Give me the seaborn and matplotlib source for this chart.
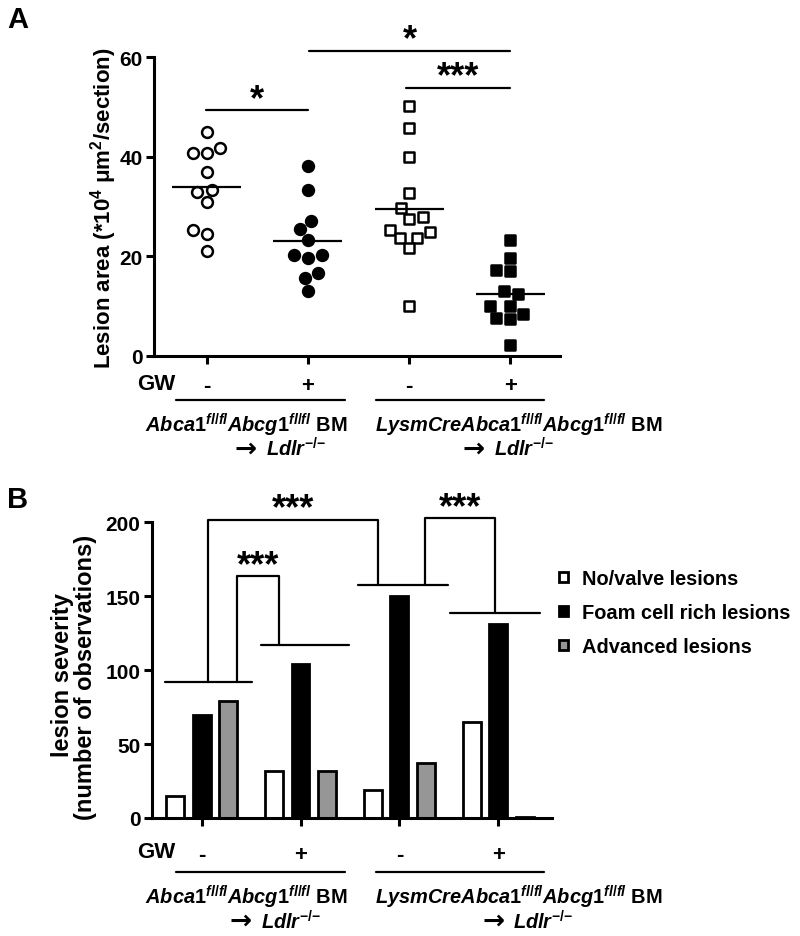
import numpy as np
import pandas as pd
import seaborn as sns
import matplotlib.pyplot as plt
from matplotlib.lines import Line2D

# panel A: lesion area per mouse (*10^4 um2/section)
groups = ["ctrl_minus", "ctrl_plus", "ko_minus", "ko_plus"]
gw_labels = ["-", "+", "-", "+"]
area_ctrl_minus = [44.9, 41.7, 40.8, 40.8, 36.9, 33.4, 32.9, 30.9, 25.3, 24.5, 21.1]
area_ctrl_plus = [38.2, 33.4, 27.2, 25.5, 23.3, 20.3, 19.7, 20.3, 16.6, 15.6, 13.0]
area_ko_minus = [50.2, 45.8, 39.9, 32.7, 29.7, 28.0, 27.5, 25.4, 25.0, 23.7, 23.8, 21.6, 10.1]
area_ko_plus = [23.3, 19.7, 17.2, 17.0, 13.0, 12.4, 10.1, 10.1, 8.4, 7.7, 7.4, 2.3]

# panel B: lesion severity (number of observations)
severity = ["No/valve lesions", "Foam cell rich lesions", "Advanced lesions"]
novalve = [15, 32, 19, 65]
foam = [70, 104, 150, 131]
advanced = [79, 32, 37, 1]

areas = [area_ctrl_minus, area_ctrl_plus, area_ko_minus, area_ko_plus]
dfA = pd.DataFrame({
    "group": np.repeat(groups, [len(a) for a in areas]),
    "area": np.concatenate(areas),
})
dfB = pd.DataFrame({
    "group": groups * 3,
    "severity": np.repeat(severity, len(groups)),
    "count": novalve + foam + advanced,
})

sns.set_style("white")
plt.rcParams["font.family"] = ["Liberation Sans", "DejaVu Sans"]
plt.rcParams["font.weight"] = "bold"
plt.rcParams["text.color"] = "black"
plt.rcParams["xtick.color"] = "black"
plt.rcParams["ytick.color"] = "black"
plt.rcParams["mathtext.fontset"] = "custom"
plt.rcParams["mathtext.rm"] = "Liberation Sans:bold"
plt.rcParams["mathtext.bf"] = "Liberation Sans:bold"
plt.rcParams["mathtext.it"] = "Liberation Sans:italic:bold"

W, H = 800, 937
fig = plt.figure(figsize=(8, 9.37), dpi=100)


def fx(px):
    return px / W


def fy(py):
    return 1 - py / H


lw_axis = 2.2
label_top = r"$\mathit{Abca1}^{\mathit{fl/fl}}\mathit{Abcg1}^{\mathit{fl/fl}}$ BM"
label_top2 = r"$\mathit{LysmCreAbca1}^{\mathit{fl/fl}}\mathit{Abcg1}^{\mathit{fl/fl}}$ BM"
label_ldlr = r"$\mathit{Ldlr}^{\mathit{{-}/{-}}}$"

# ---------------- panel A ----------------
axA = fig.add_axes([fx(154), fy(357), fx(406), (357 - 58.3) / H])
styles = [("o", "white"), ("o", "black"), ("s", "white"), ("s", "black")]
for g, (mk, fc) in zip(groups, styles):
    sns.swarmplot(data=dfA[dfA.group == g], x="group", y="area", order=groups,
                  marker=mk, color=fc, edgecolor="black", linewidth=1.8,
                  size=7.8, ax=axA, zorder=3)
for i, vals in enumerate(areas):
    axA.hlines(np.mean(vals), i - 0.34, i + 0.34, color="black", lw=1.6, zorder=5)

axA.set_xlim(-0.52, 3.49)
axA.set_ylim(0, 60)
axA.set_yticks([0, 20, 40, 60])
axA.set_xticks(range(4))
axA.set_xticklabels(gw_labels)
axA.set_xlabel("")
axA.set_ylabel("")
sns.despine(ax=axA)
for s in ["left", "bottom"]:
    axA.spines[s].set_linewidth(lw_axis)
    axA.spines[s].set_color("black")
axA.tick_params(axis="y", length=6, width=lw_axis, labelsize=15, pad=2, left=True)
axA.tick_params(axis="x", length=6, width=lw_axis, labelsize=16, pad=8, bottom=True)

# significance bars
for x0, x1, y, txt in [(-0.01, 1.0, 49.4, "*"), (1.01, 3.0, 61.3, "*"), (1.97, 3.0, 53.9, "***")]:
    axA.plot([x0, x1], [y, y], color="black", lw=1.6, clip_on=False)
    axA.annotate(txt, ((x0 + x1) / 2, y), xytext=(0, 1), textcoords="offset points",
                 ha="center", va="baseline", fontsize=26, annotation_clip=False)

# ---------------- panel B ----------------
axB = fig.add_axes([fx(151.7), fy(819), fx(400), (819 - 523.3) / H])
sns.barplot(data=dfB, x="group", y="count", hue="severity", order=groups,
            hue_order=severity, palette=["white", "black", "#969696"],
            edgecolor="black", linewidth=2, width=0.81, gap=0.33,
            errorbar=None, ax=axB)
axB.set_xlim(-0.505, 3.54)
axB.set_ylim(0, 200)
axB.set_yticks([0, 50, 100, 150, 200])
axB.set_xticks(range(4))
axB.set_xticklabels(gw_labels)
axB.set_xlabel("")
axB.set_ylabel("")
sns.despine(ax=axB)
for s in ["left", "bottom"]:
    axB.spines[s].set_linewidth(lw_axis)
    axB.spines[s].set_color("black")
axB.tick_params(axis="y", length=6, width=lw_axis, labelsize=15, pad=2, left=True)
axB.tick_params(axis="x", length=6, width=lw_axis, labelsize=16, pad=13, bottom=True)

sns.move_legend(axB, "upper left", bbox_to_anchor=(fx(559), fy(570)),
                bbox_transform=fig.transFigure, frameon=False, title=None,
                fontsize=14.4, handlelength=0.45, handleheight=0.45,
                handletextpad=0.7, labelspacing=0.75, borderpad=0, borderaxespad=0)

# group lines and brackets
for x0, x1, y in [(-0.37, 0.51, 91.7), (0.6, 1.49, 117.3), (1.58, 2.49, 157.8), (2.51, 3.42, 138.7)]:
    axB.plot([x0, x1], [y, y], color="black", lw=1.6, clip_on=False)
brackets = [
    (0.061, 91.7, 1.78, 157.8, 201.8),
    (0.357, 91.7, 0.785, 117.3, 163.4),
    (2.258, 157.8, 2.969, 138.7, 202.7),
]
for xa, ya, xb, yb, top in brackets:
    axB.plot([xa, xa, xb, xb], [ya, top, top, yb], color="black", lw=1.6, clip_on=False)
    axB.annotate("***", ((xa + xb) / 2, top), xytext=(0, 1), textcoords="offset points",
                 ha="center", va="baseline", fontsize=26, annotation_clip=False)

# ---------------- labels outside axes ----------------
fig.text(fx(7), fy(6), "A", fontsize=21, va="top")
fig.text(fx(7), fy(486), "B", fontsize=21, va="top")
fig.text(fx(104), fy(208), "Lesion area (*10$^4$ μm$^2$/section)", rotation=90,
         ha="center", va="center", fontsize=16)
fig.text(fx(62), fy(675), "lesion severity", rotation=90, ha="center", va="center", fontsize=17)
fig.text(fx(86), fy(677), "(number of observations)", rotation=90, ha="center",
         va="center", fontsize=17)

for gw_y, line_y, l1_y, l2_y, arrows in [(385, 400.7, 425, 449.3, (235, 463)),
                                        (853, 872.7, 897, 921.7, (230, 482))]:
    fig.text(fx(175), fy(gw_y), "GW", ha="right", va="center", fontsize=16)
    fig.add_artist(Line2D([fx(176), fx(345)], [fy(line_y)] * 2, color="black", lw=1.6))
    fig.add_artist(Line2D([fx(376), fx(544)], [fy(line_y)] * 2, color="black", lw=1.6))
    fig.text(fx(246.5), fy(l1_y), label_top, ha="center", va="center", fontsize=14.4)
    fig.text(fx(519), fy(l1_y), label_top2, ha="center", va="center", fontsize=14.4)
    for ax0 in arrows:
        fig.text(fx(ax0), fy(l2_y), "→", ha="left", va="center", fontsize=19,
                 family="DejaVu Sans", fontweight="bold")
        fig.text(fx(ax0 + 31), fy(l2_y), label_ldlr, ha="left", va="center", fontsize=14.4)

fig.savefig("out.png", dpi=100)
